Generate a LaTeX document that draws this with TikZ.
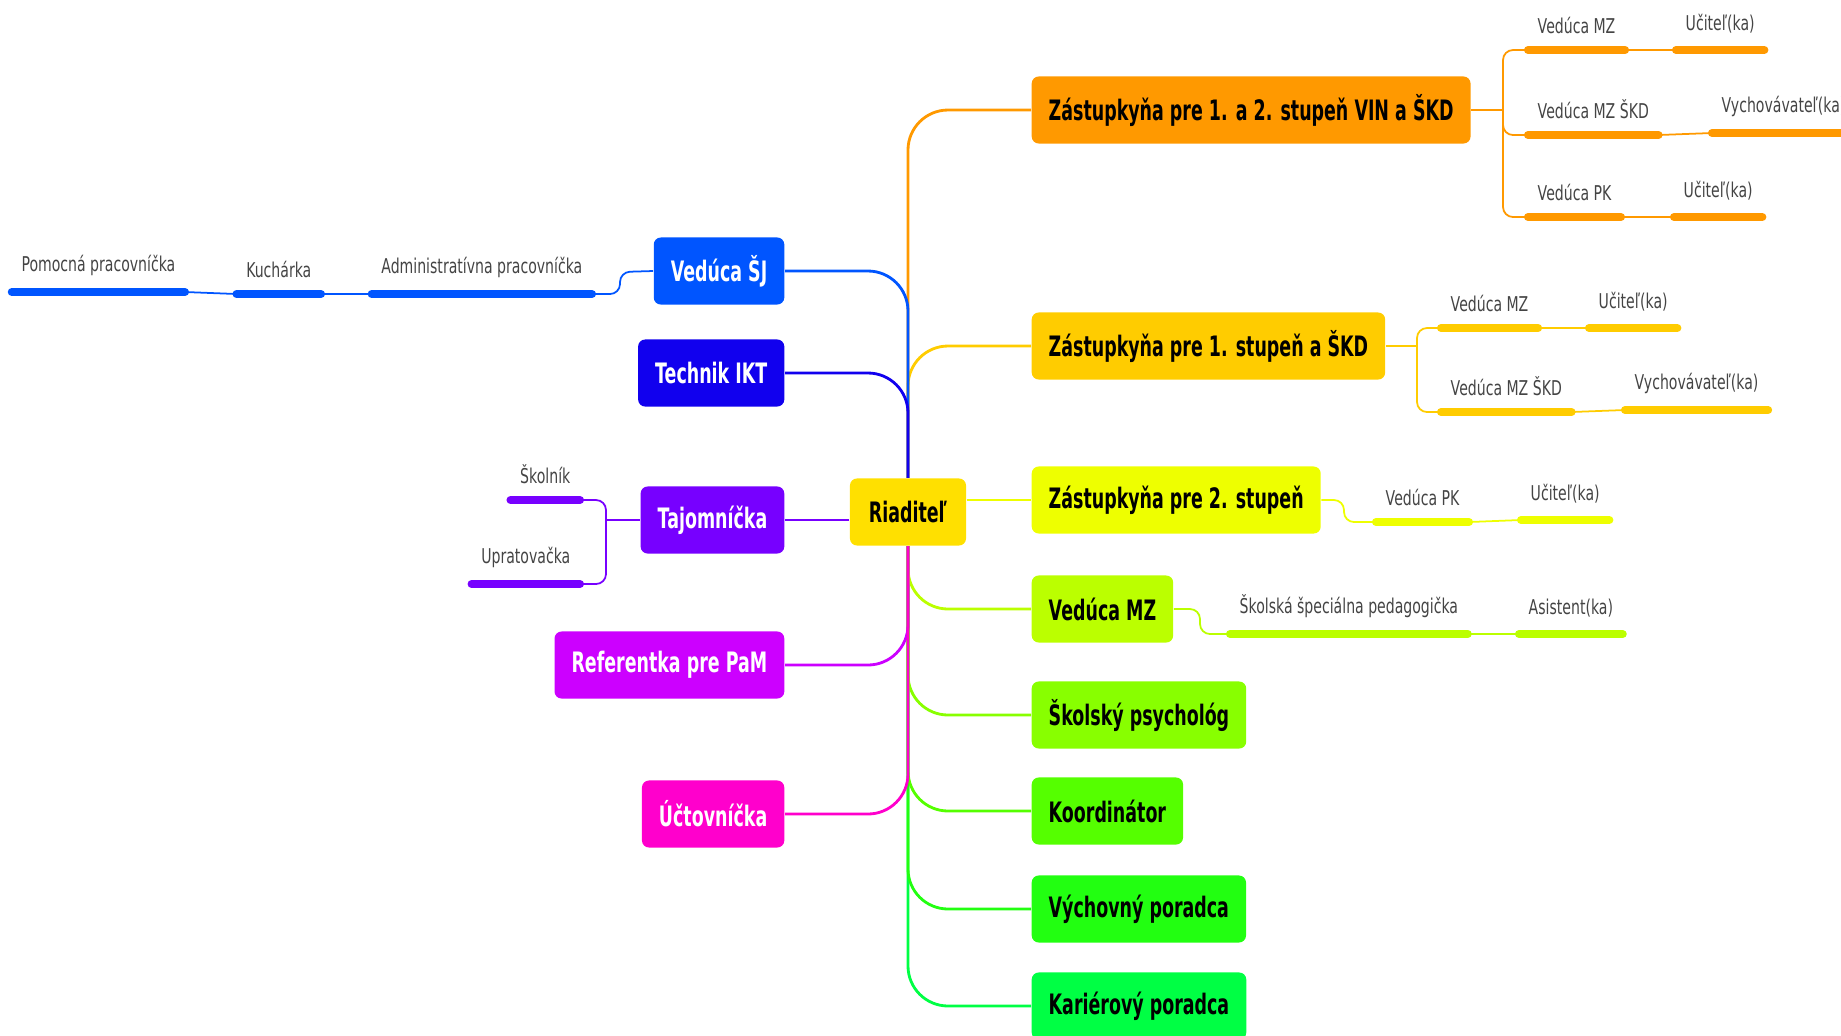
\documentclass[tikz,border=0pt]{standalone}
\usepackage{fontspec}
\newfontfamily\mapfont{DejaVu Sans}[FakeStretch=0.62]
\newfontfamily\subfont{DejaVu Sans}[FakeStretch=0.69]
\definecolor{riad}{HTML}{FFE000}
\definecolor{vin}{HTML}{FF9900}
\definecolor{prvy}{HTML}{FFCC00}
\definecolor{druhy}{HTML}{EEFF00}
\definecolor{mz}{HTML}{BBFF00}
\definecolor{psych}{HTML}{88FF00}
\definecolor{koord}{HTML}{55FF00}
\definecolor{vychov}{HTML}{22FF11}
\definecolor{karier}{HTML}{00FF44}
\definecolor{jedal}{HTML}{0055FF}
\definecolor{ikt}{HTML}{1100EE}
\definecolor{tajom}{HTML}{7700FF}
\definecolor{pam}{HTML}{CC00FF}
\definecolor{uct}{HTML}{FF00CC}
\definecolor{subgray}{HTML}{444444}
\begin{document}
\begin{tikzpicture}[x=0.01cm, y=-0.01cm,
    topic/.style={rounded corners=0.07cm, minimum height=0.67cm, inner xsep=0.17cm,
      font=\mapfont\bfseries\fontsize{8}{9}\selectfont},
    sub/.style={inner xsep=0.09cm, inner ysep=0.16cm, text=subgray,
      font=\subfont\fontsize{5.8}{6.8}\selectfont},
    bar/.style={line width=2.3pt, line cap=round},
    branch/.style={line width=0.8pt, rounded corners=0.4cm},
    twig/.style={line width=0.5pt, rounded corners=0.1cm}]
  \useasboundingbox (0,0) rectangle (1841,1035);

  % central node
  \node[topic, fill=riad, minimum width=1.16cm] (root) at (908,512) {Riaditeľ};

  % right side
  \node[topic, fill=vin, anchor=west] (zas12) at (1031,110) {Zástupkyňa pre 1. a 2. stupeň VIN a ŠKD};
  \node[topic, fill=prvy, anchor=west] (zas1) at (1031,346) {Zástupkyňa pre 1. stupeň a ŠKD};
  \node[topic, fill=druhy, anchor=west] (zas2) at (1031,500) {Zástupkyňa pre 2. stupeň};
  \node[topic, fill=mz, anchor=west] (vmz) at (1031,609) {Vedúca MZ};
  \node[topic, fill=psych, anchor=west] (psy) at (1031,715) {Školský psychológ};
  \node[topic, fill=koord, anchor=west] (koo) at (1031,811) {Koordinátor};
  \node[topic, fill=vychov, anchor=west] (vyp) at (1031,909) {Výchovný poradca};
  \node[topic, fill=karier, anchor=west] (kar) at (1031,1006) {Kariérový poradca};

  % left side
  \node[topic, fill=jedal, text=white, anchor=east] (vsj) at (785,271) {Vedúca ŠJ};
  \node[topic, fill=ikt, text=white, anchor=east] (tik) at (785,373) {Technik IKT};
  \node[topic, fill=tajom, text=white, anchor=east] (taj) at (785,520) {Tajomníčka};
  \node[topic, fill=pam, text=white, anchor=east] (ref) at (785,665) {Referentka pre PaM};
  \node[topic, fill=uct, text=white, anchor=east] (uct) at (785,814) {Účtovníčka};

  % branches from the centre
  \draw[branch, vin] (root.north) |- (zas12.west);
  \draw[branch, prvy] (root.north) |- (zas1.west);
  \draw[branch, druhy] (root.east |- zas2.west) -- (zas2.west);
  \draw[branch, karier] (root.south) |- (kar.west);
  \draw[branch, vychov] (root.south) |- (vyp.west);
  \draw[branch, koord] (root.south) |- (koo.west);
  \draw[branch, psych] (root.south) |- (psy.west);
  \draw[branch, mz] (root.south) |- (vmz.west);
  \draw[branch, jedal] (root.north) |- (vsj.east);
  \draw[branch, ikt] (root.north) |- (tik.east);
  \draw[branch, tajom] (root.west |- taj.east) -- (taj.east);
  \draw[branch, pam] (root.south) |- (ref.east);
  \draw[branch, uct] (root.south) |- (uct.east);

  % Zastupkyna VIN
  \node[sub, anchor=south west] (a1) at (1528,50) {Vedúca MZ};
  \node[sub, anchor=south west] (a1b) at (1676,50) {Učiteľ(ka)};
  \node[sub, anchor=south west] (a2) at (1528,135) {Vedúca MZ ŠKD};
  \node[sub, anchor=south west] (a2b) at (1712,133) {Vychovávateľ(ka)};
  \node[sub, anchor=south west] (a3) at (1528,217) {Vedúca PK};
  \node[sub, anchor=south west] (a3b) at (1674,217) {Učiteľ(ka)};
  \coordinate (j1) at (1503,110);
  \draw[twig, vin] (zas12.east) -- (j1);
  \draw[twig, vin] (j1) |- (a1.south west);
  \draw[twig, vin] (j1) |- (a2.south west);
  \draw[twig, vin] (j1) |- (a3.south west);
  \draw[twig, vin] (a1.south east) -- (a1b.south west);
  \draw[twig, vin] (a2.south east) -- (a2b.south west);
  \draw[twig, vin] (a3.south east) -- (a3b.south west);
  \draw[bar, vin] (a1.south west) -- (a1.south east);
  \draw[bar, vin] (a1b.south west) -- (a1b.south east);
  \draw[bar, vin] (a2.south west) -- (a2.south east);
  \draw[bar, vin] (a2b.south west) -- (a2b.south east);
  \draw[bar, vin] (a3.south west) -- (a3.south east);
  \draw[bar, vin] (a3b.south west) -- (a3b.south east);

  % Zastupkyna 1. stupen
  \node[sub, anchor=south west] (b1) at (1441,328) {Vedúca MZ};
  \node[sub, anchor=south west] (b1b) at (1589,328) {Učiteľ(ka)};
  \node[sub, anchor=south west] (b2) at (1441,412) {Vedúca MZ ŠKD};
  \node[sub, anchor=south west] (b2b) at (1625,410) {Vychovávateľ(ka)};
  \coordinate (j2) at (1417,346);
  \draw[twig, prvy] (zas1.east) -- (j2);
  \draw[twig, prvy] (j2) |- (b1.south west);
  \draw[twig, prvy] (j2) |- (b2.south west);
  \draw[twig, prvy] (b1.south east) -- (b1b.south west);
  \draw[twig, prvy] (b2.south east) -- (b2b.south west);
  \draw[bar, prvy] (b1.south west) -- (b1.south east);
  \draw[bar, prvy] (b1b.south west) -- (b1b.south east);
  \draw[bar, prvy] (b2.south west) -- (b2.south east);
  \draw[bar, prvy] (b2b.south west) -- (b2b.south east);

  % Zastupkyna 2. stupen
  \node[sub, anchor=south west] (d1) at (1376,522) {Vedúca PK};
  \node[sub, anchor=south west] (d1b) at (1521,520) {Učiteľ(ka)};
  \coordinate (j3) at (1344,500);
  \draw[twig, druhy] (zas2.east) -- (j3) |- (d1.south west);
  \draw[twig, druhy] (d1.south east) -- (d1b.south west);
  \draw[bar, druhy] (d1.south west) -- (d1.south east);
  \draw[bar, druhy] (d1b.south west) -- (d1b.south east);

  % Veduca MZ
  \node[sub, anchor=south west] (e1) at (1230,634) {Školská špeciálna pedagogička};
  \node[sub, anchor=south west] (e1b) at (1519,634) {Asistent(ka)};
  \coordinate (j4) at (1200,609);
  \draw[twig, mz] (vmz.east) -- (j4) |- (e1.south west);
  \draw[twig, mz] (e1.south east) -- (e1b.south west);
  \draw[bar, mz] (e1.south west) -- (e1.south east);
  \draw[bar, mz] (e1b.south west) -- (e1b.south east);

  % Veduca SJ
  \node[sub, anchor=south east] (f1) at (592,294) {Administratívna pracovníčka};
  \node[sub, anchor=south east] (f2) at (321,294) {Kuchárka};
  \node[sub, anchor=south east] (f3) at (185,292) {Pomocná pracovníčka};
  \coordinate (j5) at (620,272);
  \draw[twig, jedal] (vsj.west) -- (j5) |- (f1.south east);
  \draw[twig, jedal] (f1.south west) -- (f2.south east);
  \draw[twig, jedal] (f2.south west) -- (f3.south east);
  \draw[bar, jedal] (f1.south west) -- (f1.south east);
  \draw[bar, jedal] (f2.south west) -- (f2.south east);
  \draw[bar, jedal] (f3.south west) -- (f3.south east);

  % Tajomnicka
  \node[sub, anchor=south east] (g1) at (580,500) {Školník};
  \node[sub, anchor=south east] (g2) at (580,584) {Upratovačka};
  \coordinate (j6) at (606,520);
  \draw[twig, tajom] (taj.west) -- (j6);
  \draw[twig, tajom] (j6) |- (g1.south east);
  \draw[twig, tajom] (j6) |- (g2.south east);
  \draw[bar, tajom] (g1.south west) -- (g1.south east);
  \draw[bar, tajom] (g2.south west) -- (g2.south east);
\end{tikzpicture}
\end{document}
